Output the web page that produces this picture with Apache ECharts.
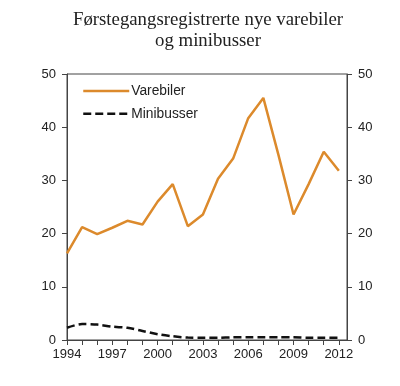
<!DOCTYPE html>
<html>
<head>
<meta charset="utf-8">
<script src="https://cdn.jsdelivr.net/npm/echarts@6/dist/echarts.min.js"></script>
<style>html,body{margin:0;padding:0;background:#fff}#c{width:400px;height:386px}</style>
</head>
<body>
<div id="c"></div>
<script>
const years = [1994,1995,1996,1997,1998,1999,2000,2001,2002,2003,2004,2005,2006,2007,2008,2009,2010,2011,2012];
const varebiler = [16.3,21.2,19.9,21.1,22.4,21.7,26.0,29.3,21.4,23.6,30.3,34.1,41.7,45.5,34.8,23.6,29.3,35.4,31.8];
const minibusser = [2.3,3.0,2.9,2.5,2.3,1.7,1.1,0.7,0.45,0.4,0.4,0.5,0.5,0.5,0.5,0.5,0.4,0.4,0.4];
const yTicks = [0,10,20,30,40,50];
const xLabelYears = [1994,1997,2000,2003,2006,2009,2012];

const chart = echarts.init(document.getElementById('c'));
const axisCol = '#444';
const lblStyle = {fontFamily:'Liberation Sans', fontSize:13, color:'#222'};
chart.setOption({
  animation:false,
  title:{
    text:'Førstegangsregistrerte nye varebiler\nog minibusser',
    left:203, top:5, textAlign:'center',
    textStyle:{fontFamily:'Liberation Serif', fontSize:18.8, fontWeight:'normal', color:'#222', lineHeight:21}
  },
  legend:{
    orient:'vertical', left:82, top:84, padding:0, itemWidth:46, itemHeight:14, itemGap:8.7,
    itemStyle:{opacity:0},
    lineStyle:{width:2.5},
    textStyle:Object.assign({}, lblStyle, {fontSize:13.8, padding:[0,0,0,-3]}),
    data:['Varebiler','Minibusser']
  },
  grid:{left:67, right:53, top:74, bottom:46, show:true, borderColor:axisCol, borderWidth:1, backgroundColor:'transparent'},
  xAxis:{
    type:'value', min:1994, max:2012.54, interval:1,
    axisLine:{lineStyle:{color:axisCol}},
    axisTick:{show:true, length:5, lineStyle:{color:axisCol}},
    splitLine:{show:false},
    axisLabel:Object.assign({}, lblStyle, {margin:8, showMaxLabel:false,
      formatter:v => xLabelYears.indexOf(v) >= 0 ? String(v) : ''})
  },
  yAxis:[0,1].map(i => ({
    type:'value', min:yTicks[0], max:yTicks[yTicks.length-1], interval:10,
    position: i===0 ? 'left' : 'right',
    axisLine:{show:true, lineStyle:{color:axisCol}},
    axisTick:{show:true, length:5, lineStyle:{color:axisCol}},
    splitLine:{show:false},
    axisLabel:Object.assign({}, lblStyle, {margin:11})
  })),
  series:[
    {name:'Varebiler', type:'line', symbol:'none', yAxisIndex:0,
     data:years.map((y,i)=>[y,varebiler[i]]),
     lineStyle:{color:'#dc8a2c', width:2.5}, itemStyle:{color:'#dc8a2c'}},
    {name:'Minibusser', type:'line', symbol:'none', yAxisIndex:0, smooth:0.3,
     data:years.map((y,i)=>[y,minibusser[i]]),
     lineStyle:{color:'#111', width:2.5, type:[8,4]}, itemStyle:{color:'#111'}}
  ]
});
</script>
</body>
</html>
